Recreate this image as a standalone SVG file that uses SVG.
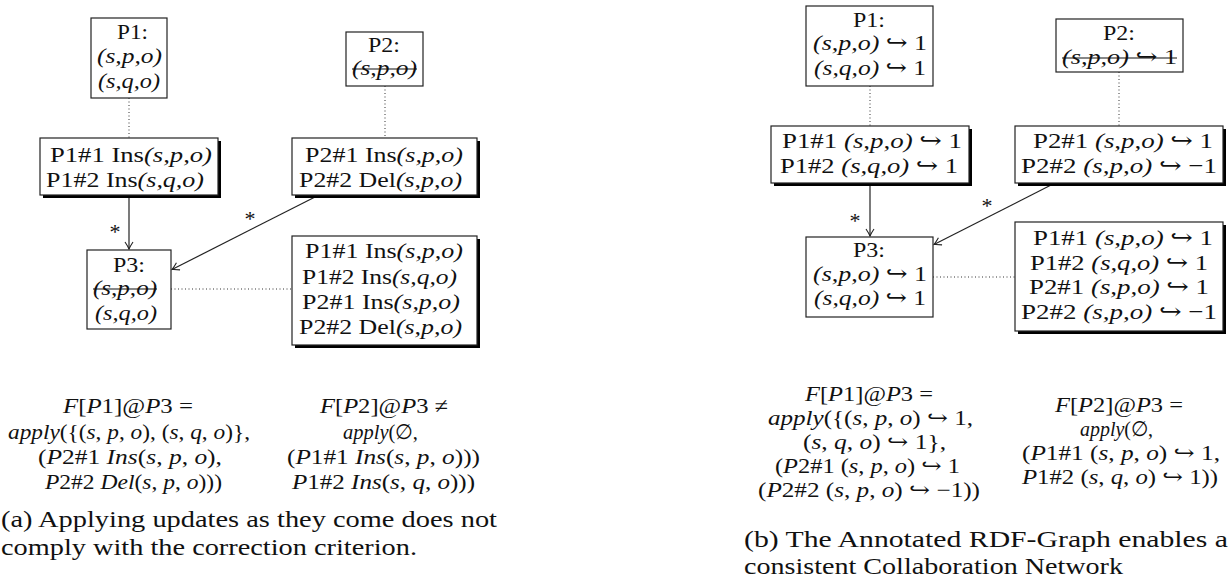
<svg xmlns="http://www.w3.org/2000/svg" width="1229" height="582" viewBox="0 0 1229 582">
<defs>
<style>
text{font-family:"Liberation Serif","DejaVu Serif",serif;font-size:22px;fill:#111}
.it{font-style:italic}
.f text{font-size:21px}
.cap{font-size:24px}
.box{fill:#fff;stroke:#222;stroke-width:1.2}
.sh{fill:#000}
.dot{stroke:#333;stroke-width:1;stroke-dasharray:1 2.5;fill:none}
.edge{stroke:#222;stroke-width:1.2;fill:none;marker-end:url(#arr)}
.strike{stroke:#111;stroke-width:1.1}
</style>
<marker id="arr" viewBox="-8 -5 10 10" refX="0" refY="0" markerWidth="10" markerHeight="10" orient="auto" markerUnits="userSpaceOnUse">
<path d="M-7,-4 Q-2.5,-1 0,0 Q-2.5,1 -7,4" fill="none" stroke="#222" stroke-width="1.1"/>
</marker>
</defs>
<rect width="1229" height="582" fill="#fff"/>

<!-- ===== (a) ===== -->
<g id="connectors-a">
<line class="dot" x1="129" y1="98" x2="129" y2="138"/>
<line class="dot" x1="385" y1="86" x2="385" y2="138"/>
<line class="dot" x1="171" y1="289" x2="292" y2="289"/>
<line class="edge" x1="129" y1="195" x2="129" y2="249"/>
<line class="edge" x1="317" y1="196" x2="172" y2="269.5"/>
<text x="115" y="239" text-anchor="middle">*</text>
<text x="250" y="226" text-anchor="middle">*</text>
</g>

<g id="a-P1">
<rect class="box" x="91" y="18" width="76" height="80"/>
<text x="117" y="39" textLength="31" lengthAdjust="spacingAndGlyphs">P1:</text>
<text x="97" y="63" textLength="65" lengthAdjust="spacingAndGlyphs" class="it">(s,p,o)</text>
<text x="98" y="88" textLength="62" lengthAdjust="spacingAndGlyphs" class="it">(s,q,o)</text>
</g>

<g id="a-P2">
<rect class="box" x="346" y="32" width="77" height="54"/>
<text x="368" y="52" textLength="32" lengthAdjust="spacingAndGlyphs">P2:</text>
<text x="352" y="75" textLength="65" lengthAdjust="spacingAndGlyphs" class="it">(s,p,o)</text>
<line class="strike" x1="352" y1="69" x2="417" y2="69"/>
</g>

<g id="a-P1ops">
<rect class="sh" x="43" y="141" width="178" height="57"/>
<rect class="box" x="40" y="138" width="178" height="57"/>
<text x="50" y="162" textLength="162" lengthAdjust="spacingAndGlyphs">P1#1 Ins<tspan class="it">(s,p,o)</tspan></text>
<text x="46" y="187" textLength="158" lengthAdjust="spacingAndGlyphs">P1#2 Ins<tspan class="it">(s,q,o)</tspan></text>
</g>

<g id="a-P2ops">
<rect class="sh" x="295" y="141" width="185" height="57"/>
<rect class="box" x="292" y="138" width="185" height="57"/>
<text x="305" y="162" textLength="158" lengthAdjust="spacingAndGlyphs">P2#1 Ins<tspan class="it">(s,p,o)</tspan></text>
<text x="299" y="187" textLength="163" lengthAdjust="spacingAndGlyphs">P2#2 Del<tspan class="it">(s,p,o)</tspan></text>
</g>

<g id="a-P3">
<rect class="box" x="87" y="250" width="84" height="79"/>
<text x="113" y="272" textLength="32" lengthAdjust="spacingAndGlyphs">P3:</text>
<text x="93" y="295" textLength="64" lengthAdjust="spacingAndGlyphs" class="it">(s,p,o)</text>
<line class="strike" x1="93" y1="289" x2="157" y2="289"/>
<text x="95" y="320" textLength="62" lengthAdjust="spacingAndGlyphs" class="it">(s,q,o)</text>
</g>

<g id="a-P3ops">
<rect class="sh" x="295" y="239" width="185" height="109"/>
<rect class="box" x="292" y="236" width="185" height="109"/>
<text x="305" y="258" textLength="158" lengthAdjust="spacingAndGlyphs">P1#1 Ins<tspan class="it">(s,p,o)</tspan></text>
<text x="302" y="284" textLength="155" lengthAdjust="spacingAndGlyphs">P1#2 Ins<tspan class="it">(s,q,o)</tspan></text>
<text x="302" y="309" textLength="158" lengthAdjust="spacingAndGlyphs">P2#1 Ins<tspan class="it">(s,p,o)</tspan></text>
<text x="299" y="334" textLength="163" lengthAdjust="spacingAndGlyphs">P2#2 Del<tspan class="it">(s,p,o)</tspan></text>
</g>

<g id="a-formulas" class="f">
<text x="63" y="413" textLength="130" lengthAdjust="spacingAndGlyphs"><tspan class="it">F</tspan>[<tspan class="it">P</tspan>1]@<tspan class="it">P</tspan>3 =</text>
<text x="8" y="439" textLength="242" lengthAdjust="spacingAndGlyphs"><tspan class="it">apply</tspan>({(<tspan class="it">s</tspan>, <tspan class="it">p</tspan>, <tspan class="it">o</tspan>), (<tspan class="it">s</tspan>, <tspan class="it">q</tspan>, <tspan class="it">o</tspan>)},</text>
<text x="38" y="464" textLength="184" lengthAdjust="spacingAndGlyphs">(<tspan class="it">P</tspan>2#1 <tspan class="it">Ins</tspan>(<tspan class="it">s</tspan>, <tspan class="it">p</tspan>, <tspan class="it">o</tspan>),</text>
<text x="45" y="489" textLength="177" lengthAdjust="spacingAndGlyphs"><tspan class="it">P</tspan>2#2 <tspan class="it">Del</tspan>(<tspan class="it">s</tspan>, <tspan class="it">p</tspan>, <tspan class="it">o</tspan>)))</text>

<text x="320" y="413" textLength="128" lengthAdjust="spacingAndGlyphs"><tspan class="it">F</tspan>[<tspan class="it">P</tspan>2]@<tspan class="it">P</tspan>3 ≠</text>
<text x="343" y="439" textLength="75" lengthAdjust="spacingAndGlyphs"><tspan class="it">apply</tspan>(∅,</text>
<text x="287" y="464" textLength="193" lengthAdjust="spacingAndGlyphs">(<tspan class="it">P</tspan>1#1 <tspan class="it">Ins</tspan>(<tspan class="it">s</tspan>, <tspan class="it">p</tspan>, <tspan class="it">o</tspan>)))</text>
<text x="292" y="489" textLength="183" lengthAdjust="spacingAndGlyphs"><tspan class="it">P</tspan>1#2 <tspan class="it">Ins</tspan>(<tspan class="it">s</tspan>, <tspan class="it">q</tspan>, <tspan class="it">o</tspan>)))</text>
</g>

<g id="a-caption">
<text class="cap" x="1" y="527" textLength="496" lengthAdjust="spacingAndGlyphs">(a) Applying updates as they come does not</text>
<text class="cap" x="1" y="555" textLength="416" lengthAdjust="spacingAndGlyphs">comply with the correction criterion.</text>
</g>

<!-- ===== (b) ===== -->
<g id="connectors-b">
<line class="dot" x1="870" y1="86" x2="870" y2="126"/>
<line class="dot" x1="1119" y1="72" x2="1119" y2="126"/>
<line class="dot" x1="933" y1="277" x2="1015" y2="277"/>
<line class="edge" x1="870" y1="183" x2="870" y2="236"/>
<line class="edge" x1="1055" y1="183" x2="934" y2="244.5"/>
<text x="855" y="228" text-anchor="middle">*</text>
<text x="987" y="213" text-anchor="middle">*</text>
</g>

<g id="b-P1">
<rect class="box" x="806" y="6" width="127" height="80"/>
<text x="853" y="27" textLength="32" lengthAdjust="spacingAndGlyphs">P1:</text>
<text x="813" y="50" textLength="114" lengthAdjust="spacingAndGlyphs"><tspan class="it">(s,p,o)</tspan> ↪ 1</text>
<text x="814" y="75" textLength="112" lengthAdjust="spacingAndGlyphs"><tspan class="it">(s,q,o)</tspan> ↪ 1</text>
</g>

<g id="b-P2">
<rect class="box" x="1056" y="19" width="127" height="53"/>
<text x="1103" y="40" textLength="32" lengthAdjust="spacingAndGlyphs">P2:</text>
<text x="1062" y="64" textLength="115" lengthAdjust="spacingAndGlyphs"><tspan class="it">(s,p,o)</tspan> ↪ 1</text>
<line class="strike" x1="1062" y1="58" x2="1177" y2="58"/>
</g>

<g id="b-P1ops">
<rect class="sh" x="774" y="129" width="198" height="57"/>
<rect class="box" x="771" y="126" width="198" height="57"/>
<text x="782" y="148" textLength="180" lengthAdjust="spacingAndGlyphs">P1#1 <tspan class="it">(s,p,o)</tspan> ↪ 1</text>
<text x="780" y="173" textLength="178" lengthAdjust="spacingAndGlyphs">P1#2 <tspan class="it">(s,q,o)</tspan> ↪ 1</text>
</g>

<g id="b-P2ops">
<rect class="sh" x="1018" y="129" width="208" height="57"/>
<rect class="box" x="1015" y="126" width="208" height="57"/>
<text x="1033" y="148" textLength="180" lengthAdjust="spacingAndGlyphs">P2#1 <tspan class="it">(s,p,o)</tspan> ↪ 1</text>
<text x="1021" y="173" textLength="196" lengthAdjust="spacingAndGlyphs">P2#2 <tspan class="it">(s,p,o)</tspan> ↪ −1</text>
</g>

<g id="b-P3">
<rect class="box" x="806" y="237" width="127" height="80"/>
<text x="853" y="257" textLength="32" lengthAdjust="spacingAndGlyphs">P3:</text>
<text x="813" y="281" textLength="114" lengthAdjust="spacingAndGlyphs"><tspan class="it">(s,p,o)</tspan> ↪ 1</text>
<text x="814" y="305" textLength="112" lengthAdjust="spacingAndGlyphs"><tspan class="it">(s,q,o)</tspan> ↪ 1</text>
</g>

<g id="b-P3ops">
<rect class="sh" x="1018" y="225" width="208" height="109"/>
<rect class="box" x="1015" y="222" width="208" height="109"/>
<text x="1033" y="245" textLength="180" lengthAdjust="spacingAndGlyphs">P1#1 <tspan class="it">(s,p,o)</tspan> ↪ 1</text>
<text x="1030" y="270" textLength="178" lengthAdjust="spacingAndGlyphs">P1#2 <tspan class="it">(s,q,o)</tspan> ↪ 1</text>
<text x="1029" y="294" textLength="180" lengthAdjust="spacingAndGlyphs">P2#1 <tspan class="it">(s,p,o)</tspan> ↪ 1</text>
<text x="1021" y="319" textLength="196" lengthAdjust="spacingAndGlyphs">P2#2 <tspan class="it">(s,p,o)</tspan> ↪ −1</text>
</g>

<g id="b-formulas" class="f">
<text x="805" y="401" textLength="128" lengthAdjust="spacingAndGlyphs"><tspan class="it">F</tspan>[<tspan class="it">P</tspan>1]@<tspan class="it">P</tspan>3 =</text>
<text x="768" y="425" textLength="205" lengthAdjust="spacingAndGlyphs"><tspan class="it">apply</tspan>({(<tspan class="it">s</tspan>, <tspan class="it">p</tspan>, <tspan class="it">o</tspan>) ↪ 1,</text>
<text x="803" y="449" textLength="143" lengthAdjust="spacingAndGlyphs">(<tspan class="it">s</tspan>, <tspan class="it">q</tspan>, <tspan class="it">o</tspan>) ↪ 1},</text>
<text x="775" y="473" textLength="185" lengthAdjust="spacingAndGlyphs">(<tspan class="it">P</tspan>2#1 (<tspan class="it">s</tspan>, <tspan class="it">p</tspan>, <tspan class="it">o</tspan>) ↪ 1</text>
<text x="758" y="497" textLength="222" lengthAdjust="spacingAndGlyphs">(<tspan class="it">P</tspan>2#2 (<tspan class="it">s</tspan>, <tspan class="it">p</tspan>, <tspan class="it">o</tspan>) ↪ −1))</text>

<text x="1055" y="412" textLength="128" lengthAdjust="spacingAndGlyphs"><tspan class="it">F</tspan>[<tspan class="it">P</tspan>2]@<tspan class="it">P</tspan>3 =</text>
<text x="1080" y="436" textLength="73" lengthAdjust="spacingAndGlyphs"><tspan class="it">apply</tspan>(∅,</text>
<text x="1022" y="460" textLength="198" lengthAdjust="spacingAndGlyphs">(<tspan class="it">P</tspan>1#1 (<tspan class="it">s</tspan>, <tspan class="it">p</tspan>, <tspan class="it">o</tspan>) ↪ 1,</text>
<text x="1022" y="484" textLength="196" lengthAdjust="spacingAndGlyphs"><tspan class="it">P</tspan>1#2 (<tspan class="it">s</tspan>, <tspan class="it">q</tspan>, <tspan class="it">o</tspan>) ↪ 1))</text>
</g>

<g id="b-caption">
<text class="cap" x="744" y="547" textLength="484" lengthAdjust="spacingAndGlyphs">(b) The Annotated RDF-Graph enables a</text>
<text class="cap" x="744" y="574" textLength="379" lengthAdjust="spacingAndGlyphs">consistent Collaboration Network</text>
</g>
</svg>
